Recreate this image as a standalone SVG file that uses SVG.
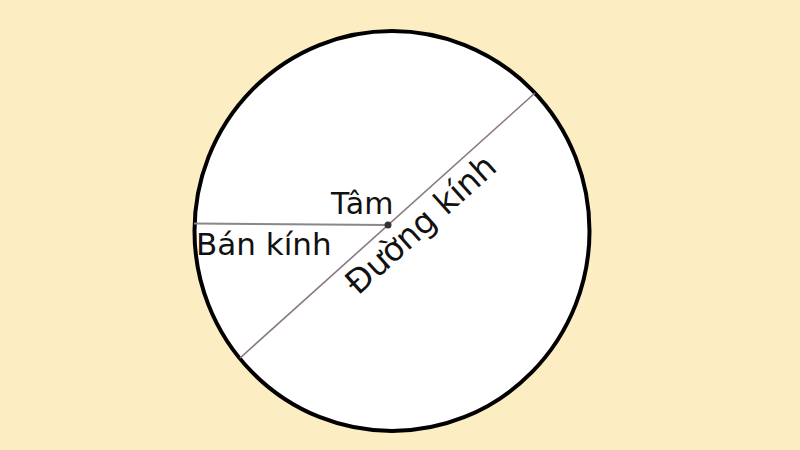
<svg xmlns="http://www.w3.org/2000/svg" width="800" height="450" viewBox="0 0 800 450">
<style>
.lbl{font-family:"DejaVu Sans",sans-serif;fill:#111}
</style>
<rect width="800" height="450" fill="#fdedc3"/>
<g id="circle"><ellipse cx="392" cy="231" rx="197.5" ry="200" fill="#fff" stroke="#000" stroke-width="4"/></g>
<g id="connectors">
<line x1="194" y1="223.5" x2="388" y2="225" stroke="#888" stroke-width="2"/>
<line x1="240" y1="358" x2="535" y2="93" stroke="#8a7882" stroke-width="1.6"/>
</g>
<g id="center"><circle cx="388" cy="225" r="3.5" fill="#333"/></g>
<g id="labels">
<text class="lbl" x="331" y="214" font-size="30">Tâm</text>
<text class="lbl" x="196" y="255" font-size="31">Bán kính</text>
<text class="lbl" font-size="33" transform="translate(358,296) rotate(-42)">Đường kính</text>
</g>
</svg>
